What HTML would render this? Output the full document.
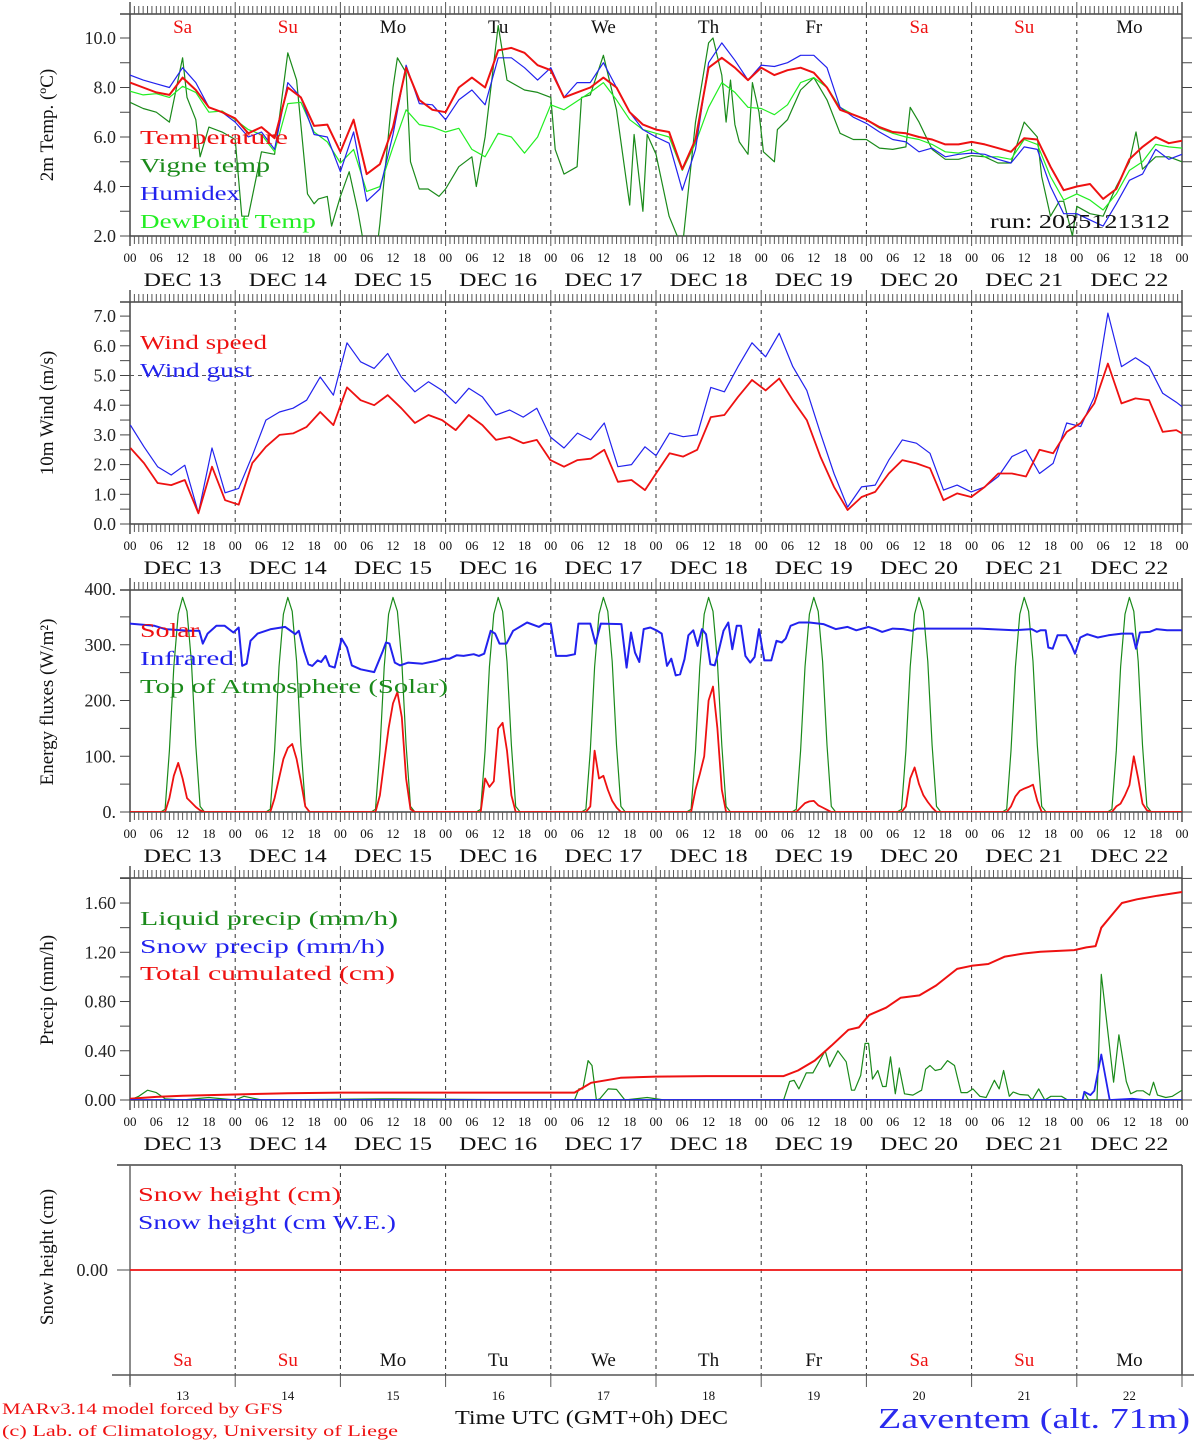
<!DOCTYPE html>
<html><head><meta charset="utf-8"><title>Meteogram Zaventem</title>
<style>
html,body{margin:0;padding:0;background:#fff;}
svg{display:block;font-family:"Liberation Serif",serif;}
</style></head>
<body>
<svg id="chart" xmlns="http://www.w3.org/2000/svg" width="1194" height="1440" viewBox="0 0 1194 1440"></svg>
<script>
// ---------- DATA ----------
const dayNames = ["Sa","Su","Mo","Tu","We","Th","Fr","Sa","Su","Mo"];
const dayNums = ["13","14","15","16","17","18","19","20","21","22"];
const hourLabels = ["00","06","12","18"];
const temp = [8.2,8.0,7.8,7.7,8.4,7.9,7.2,7.0,
6.75,6.15,6.4,5.95,8.0,7.6,6.45,6.5,
5.4,6.7,4.5,4.9,6.4,8.8,7.5,7.1,
7.0,8.0,8.4,8.0,9.5,9.6,9.4,8.9,
8.7,7.6,7.8,8.0,8.4,8.0,7.0,6.5,
6.3,6.2,4.7,5.9,8.8,9.2,8.8,8.3,
8.8,8.5,8.7,8.8,8.6,8.0,7.1,6.9,
6.7,6.4,6.2,6.15,6.0,5.9,5.7,5.7,
5.8,5.7,5.55,5.4,5.95,5.9,4.8,3.85,
4.0,4.1,3.5,3.9,5.1,5.6,6.0,5.75,5.85];
const humidex = [8.5,8.3,8.15,8.0,8.8,8.2,7.2,7.0,
6.6,6.0,6.2,5.5,8.2,7.6,6.1,6.0,
4.6,6.2,3.4,3.9,6.1,8.9,7.35,7.3,
6.7,7.5,7.9,7.3,9.2,9.2,8.8,8.3,
8.8,7.6,8.2,8.2,9.0,8.0,7.0,6.3,
6.0,5.75,3.85,5.5,9.0,9.8,9.1,8.3,
8.9,8.85,9.0,9.3,9.3,8.8,7.2,6.8,
6.55,6.2,5.9,5.8,5.4,5.55,5.2,5.3,
5.35,5.3,5.1,4.95,5.6,5.5,4.0,2.9,
2.9,2.65,2.4,3.3,4.25,4.5,5.5,5.1,5.3];
const dewpoint = [7.85,7.7,7.75,7.6,8.05,7.8,7.0,7.05,
6.7,6.3,6.1,5.4,7.35,7.4,6.2,5.8,
4.95,5.5,3.8,4.0,5.6,7.1,6.5,6.4,
6.2,6.35,5.5,5.2,6.15,6.0,5.35,6.0,
7.3,7.1,7.45,7.8,8.2,7.5,6.7,6.3,
6.15,6.0,4.65,5.75,7.2,8.2,7.8,7.2,
7.15,6.9,7.3,8.2,8.4,8.0,7.2,6.9,
6.7,6.35,6.15,6.0,5.9,5.7,5.4,5.35,
5.5,5.2,5.2,5.1,5.9,5.7,4.4,3.45,
3.7,3.45,3.05,3.7,4.65,5.0,5.7,5.6,5.55];
const vigneHours = [0,3,6,9,12,13,15,16,18,21,24,25.5,27,30,33,36,38,40.5,42,43,45,46,48,50,52,54,56,57,60,61,63,64,66,68,70.5,72,75,78,79,81,84,86,90,93,96,97,99,102,103,105,106.5,108,111,114,115,117,118,120,123,126,129,132,133,135,136,137,138,139,141,142,143.5,144.5,147,147.7,150,153,156,159,162,165,168,171,174,177,178,180,183,186,189,192,195,198,201,204,205,207,208,210,212,213,215,216,219,222,225,228,229.5,231,234,237,240];
const vigne = [7.4,7.15,7.0,6.6,9.2,7.6,6.7,5.2,6.4,6.2,5.9,2.8,2.8,5.4,5.3,9.4,8.3,3.7,3.3,3.5,3.6,2.4,3.6,4.6,3.0,1.0,1.0,2.5,8.0,9.2,8.6,5.0,3.9,3.9,3.6,3.9,4.8,5.2,4.0,6.0,10.5,8.3,7.9,7.8,7.6,5.5,4.5,4.8,7.6,7.7,8.5,9.3,7.1,3.25,6.1,3.0,6.1,5.3,2.8,1.5,6.6,9.8,10.0,8.5,6.6,8.3,6.5,5.8,5.3,8.2,7.0,5.4,5.0,6.3,6.7,7.9,8.4,7.5,6.15,5.9,5.9,5.55,5.5,5.6,7.2,6.6,5.5,5.1,5.1,5.25,5.2,4.95,4.95,6.6,6.4,6.0,4.4,2.8,3.4,3.4,2.0,3.2,2.9,2.8,4.0,5.0,6.2,4.7,5.2,5.2,5.0];
const windHours = [0.1,3.2,6.3,9.4,12.5,15.6,18.7,21.7,24.8,27.9,31.0,34.1,37.2,40.3,43.4,46.4,49.5,52.6,55.7,58.8,61.9,65.0,68.1,71.2,74.3,77.3,80.4,83.5,86.6,89.7,92.8,95.9,99.0,102.1,105.1,108.2,111.3,114.4,117.5,
120,123.1,126.2,129.4,132.5,135.6,138.7,141.9,145,148.1,151.2,154.4,157.5,160.6,163.7,166.9,170,173.1,176.2,179.4,182.5,185.6,188.7,191.9,195,198.1,201.2,204.4,207.5,210.6,213.7,216.9,220,223.1,226.2,229.4,232.5,235.6,238.7,240];
const windSpeed = [2.56,2.05,1.38,1.31,1.48,0.36,1.93,0.8,0.65,2.05,2.6,3.0,3.05,3.27,3.77,3.33,4.6,4.17,4.0,4.34,3.9,3.4,3.67,3.5,3.16,3.67,3.33,2.83,2.93,2.72,2.83,2.15,1.93,2.15,2.2,2.5,1.42,1.48,1.14,
1.7,2.38,2.27,2.5,3.6,3.67,4.28,4.85,4.5,4.9,4.17,3.5,2.27,1.25,0.47,0.91,1.08,1.7,2.15,2.04,1.88,0.8,1.03,0.91,1.25,1.7,1.7,1.6,2.5,2.38,3.1,3.4,4.06,5.4,4.06,4.23,4.17,3.1,3.16,3.05];
const windGust = [3.33,2.6,1.93,1.65,1.98,0.37,2.56,1.05,1.2,2.3,3.5,3.77,3.9,4.17,4.95,4.34,6.1,5.46,5.24,5.74,4.95,4.45,4.79,4.5,4.06,4.57,4.28,3.67,3.84,3.6,3.9,2.93,2.56,3.06,2.83,3.4,1.93,2.0,2.6,
2.3,3.06,2.94,3.0,4.6,4.45,5.3,6.1,5.63,6.42,5.3,4.5,3.06,1.7,0.57,1.25,1.31,2.15,2.83,2.72,2.38,1.14,1.31,1.08,1.25,1.6,2.27,2.5,1.7,2.04,3.4,3.28,4.28,7.1,5.3,5.6,5.3,4.4,4.1,3.95];
const solarHours = [7,8,9,10,11,12,13,14,15,16,17];
const solarByDay = [
[0,0,25,65,88,60,25,17,9,3,0],
[0,0,25,60,95,115,122,95,55,10,0],
[0,0,30,90,150,195,215,170,60,5,0],
[0,0,60,45,55,150,160,110,30,0,0],
[0,0,10,110,60,65,40,20,8,0,0],
[0,0,40,68,100,200,225,150,40,0,0],
[0,0,8,16,19,20,12,8,4,0,0],
[0,0,10,60,80,50,30,18,8,0,0],
[0,0,10,28,38,42,45,49,20,0,0],
[0,0,10,15,30,48,100,60,15,3,0]];
const toaByHour = [0,5,110,260,355,385,360,270,120,10,0];
const irHours = [0,5.6,8,13.4,15.8,16.6,17.7,19.7,21.6,23.6,24.8,25.6,26.6,27.5,29.1,32.2,35.4,37.7,38.5,39.7,40.7,41.6,42.8,43.6,44.6,45.5,46.7,48.3,49.5,50.6,52.6,55.7,57.7,58.4,59.2,60.4,61.6,63.5,66.7,69.8,71.4,72.9,74.5,76.1,78.4,79.6,80.8,82.3,83.3,84.3,85.9,87.4,90.6,93.3,94.5,96,97.2,99.6,101.5,102.3,105,106.2,107.4,112.1,113.3,114.3,115.2,116.2,117.2,118.7,120.3,121.3,122.5,123.5,124.5,125.5,126.5,127.4,128.5,129.5,130.5,131.4,132.4,133.4,134.4,135.4,136.5,137.4,138.4,139.4,140.4,141.5,142.5,143.5,144.7,146.3,147.5,148.7,149.6,150.7,152.6,155,158.2,161,163.7,165.7,168.5,170,171.6,174,176.4,178.4,179.6,184.3,193.8,201.7,205.7,206.9,207.7,208.9,209.5,210.5,211.6,213.6,214.8,215.6,216.8,218.4,220.8,223.2,226.3,228.7,229.5,230.4,232.6,234.2,236.6,240];
const infrared = [338,334,328,325,325,302,320,334,334,322,331,262,266,307,320,328,332,319,325,289,265,262,272,269,280,262,259,311,295,263,256,251,289,304,302,268,263,268,266,271,275,275,281,280,283,280,284,325,320,302,302,325,340,332,338,337,280,280,283,338,338,302,338,337,259,322,286,269,328,331,325,320,262,275,245,247,274,317,326,298,328,319,265,263,292,325,340,292,334,334,280,268,278,328,272,272,307,304,311,334,340,340,337,328,332,326,332,328,323,329,328,325,329,329,329,326,328,323,326,326,295,293,317,317,299,284,313,319,313,317,320,320,293,322,323,328,326,326];
const precipHours = [0,2,4,6,8,12,18,24,26,30,60,96,101.4,102.4,103.3,104.5,105.4,106.4,107.2,109.1,111,112.9,118,121.9,149.1,150.5,151.5,152.6,154.3,155.8,158.6,159.6,161.5,163.4,164.6,165.3,166.7,167.7,168.5,169.4,170.6,171.7,172.5,173.5,174.6,175.5,176.7,178.6,180.6,181.5,182.5,183.7,185,186.5,188.1,189.6,191,192.3,193.9,195.3,197.2,198.3,199.3,200.6,201.5,203,204.9,205.8,207.3,208.7,210.1,212.5,213.9,217.3,217.7,218.7,220.6,221.6,224.4,225.6,227.3,228.3,229.7,231.1,232.6,233.5,234.4,236.3,237.8,240];
const liquidPrecip = [0,0.03,0.08,0.06,0.01,0,0.02,0,0.03,0,0.01,0,0,0.09,0.09,0.32,0.28,0,0.01,0.09,0.086,0,0.02,0,0,0.15,0.16,0.09,0.22,0.22,0.40,0.27,0.40,0.31,0.08,0.08,0.20,0.46,0.46,0.17,0.24,0.11,0.11,0.35,0.05,0.26,0.05,0.04,0.08,0.25,0.28,0.24,0.25,0.32,0.28,0.06,0.06,0.09,0.03,0.02,0.16,0.09,0.24,0.03,0.065,0.045,0.04,0,0.09,0,0.03,0.03,0,0,0.06,0,0,1.02,0.145,0.53,0.15,0.05,0.075,0.075,0.04,0.145,0.04,0.02,0.03,0.08];
const snowHours = [0,217.3,217.7,219.1,220,221.6,223.5,228.7,231.6,240];
const snowPrecip = [0,0,0.067,0.04,0.075,0.37,0,0.01,0,0];
const cumHours = [0,6,12,24,36,48,96,101.4,105.2,111.9,120,131.5,149.1,152.4,156.2,160,163.9,166.3,168.6,172.5,175.8,180.1,183.9,188.7,192,195.8,199.6,203.9,207.7,215.4,218.2,220.3,221.6,224.4,226.3,229.7,234.4,240];
const cumPrecip = [0.01,0.025,0.035,0.045,0.055,0.06,0.06,0.06,0.14,0.18,0.19,0.194,0.194,0.24,0.32,0.44,0.57,0.59,0.69,0.75,0.83,0.85,0.93,1.065,1.09,1.105,1.165,1.19,1.205,1.218,1.24,1.25,1.40,1.52,1.60,1.63,1.66,1.69];
const snowHeightHours = [0,240];
const snowHeight = [0,0];

// ---------- DRAWING ----------
const svg = document.getElementById('chart');
const NS = 'http://www.w3.org/2000/svg';
const X0 = 130, X1 = 1182, HMAX = 240;
function xs(h){ return X0 + h*(X1-X0)/HMAX; }
function mk(tag, attrs, parent){
  const e = document.createElementNS(NS, tag);
  for (const k in attrs) e.setAttribute(k, attrs[k]);
  (parent||svg).appendChild(e);
  return e;
}
function txt(s, x, y, size, fill, anchor, parent, extra){
  const t = mk('text', {x:x, y:y, 'font-size':size, fill:fill, 'text-anchor':anchor||'start'}, parent);
  if (extra) for (const k in extra) t.setAttribute(k, extra[k]);
  t.textContent = s;
  return t;
}
function line(x1,y1,x2,y2,stroke,w,parent,dash){
  const l = mk('line',{x1:x1,y1:y1,x2:x2,y2:y2,stroke:stroke,'stroke-width':w||1}, parent);
  if (dash) l.setAttribute('stroke-dasharray', dash);
  return l;
}

const panels = [
 {name:'temperature-panel', top:14, bot:236, ymin:2, ymax:2+222/24.75, minor:1, labels:[2,4,6,8,10], fmt:v=>v.toFixed(1), title:'2m Temp. (ºC)', titleY:125},
 {name:'wind-panel', top:302, bot:524, ymin:0, ymax:222/29.7, minor:0.5, labels:[0,1,2,3,4,5,6,7], fmt:v=>v.toFixed(1), title:'10m Wind (m/s)', titleY:413},
 {name:'energy-panel', top:590, bot:812, ymin:0, ymax:222/0.5575, minor:50, labels:[0,100,200,300,400], fmt:v=>v.toFixed(0)+'.', title:'Energy fluxes (W/m²)', titleY:702},
 {name:'precip-panel', top:878, bot:1100, ymin:0, ymax:222/123.1, minor:0.2, labels:[0,0.4,0.8,1.2,1.6], fmt:v=>v.toFixed(2), title:'Precip (mm/h)', titleY:990},
];
function ys(p, v){ return p.bot - (v - p.ymin)*(p.bot-p.top)/(p.ymax-p.ymin); }

panels.forEach((p, i) => {
  const g = mk('g', {});
  
  
  p.g = g;
  const cp = mk('clipPath', {id:'clip'+i}, g);
  mk('rect', {x:X0, y:p.top, width:X1-X0, height:p.bot-p.top}, cp);
  for (let d=1; d<10; d++){
    const l = line(xs(d*24), p.top, xs(d*24), p.bot, '#333', 1, g, '4,4');
    
    
  }
  line(X0, p.top, X1, p.top, '#444', 1.5, g);
  line(X0, p.bot, X1, p.bot, '#444', 1.5, g);
  line(X0, p.top-12, X0, p.bot+10, '#444', 1.5, g);
  line(X1, p.top-12, X1, p.bot+10, '#444', 1.5, g);
  line(120, p.top, X0, p.top, '#444', 1.5, g);
  for (let h=0; h<=240; h++){
    const major = h%24===0;
    line(xs(h), p.top, xs(h), p.top-(major?12:8), '#555', 1, g);
    line(xs(h), p.bot, xs(h), p.bot+(major?10:8), '#555', 1, g);
  }
  for (let v=p.ymin; v<=p.ymax+1e-6; v+=p.minor){
    const y = ys(p, v);
    line(120, y, X0, y, '#444', 1, g);
    line(X1, y, 1192, y, '#444', 1, g);
  }
  p.labels.forEach(v => {
    const t = txt(p.fmt(v), 116, ys(p,v)+6, 18, '#222', 'end', g);
    
    
  });
  for (let d=0; d<10; d++){
    hourLabels.forEach((s,k) => {
      const t = txt(s, xs(d*24+k*6), p.bot+26, 13, '#111', 'middle', g);
      
      
    });
    const t = txt('DEC '+dayNums[d], xs(d*24+12), p.bot+50, 19, '#111', 'middle', g, {textLength:'78', lengthAdjust:'spacingAndGlyphs'});
    
    
  }
  txt('00', xs(240), p.bot+26, 13, '#111', 'middle', g);
  const yt = txt(p.title, 0, 0, 19, '#111', 'middle', g, {transform:'translate(53,'+p.titleY+') rotate(-90)'});
  
  
});

function series(p, hours, vals, color, width, name){
  const pts = hours.map((h,i) => xs(h).toFixed(1)+','+ys(p, vals[i]).toFixed(1)).join(' ');
  const pl = mk('polyline', {points:pts, fill:'none', stroke:color, 'stroke-width':width, 'stroke-linejoin':'round', 'clip-path':'url(#clip'+panels.indexOf(p)+')'}, p.g);
  
  
  return pl;
}
function legend(p, s, x, y, color, len){
  const t = txt(s, x, y, 20, color, 'start', p.g, {textLength:len, lengthAdjust:'spacingAndGlyphs'});
  
  
}

const P1 = panels[0];
const h3 = temp.map((_, i) => i*3);
series(P1, vigneHours, vigne, '#1a8a1a', 1.2, 'vigne-temp-line');
series(P1, h3, dewpoint, '#22ee22', 1.2, 'dewpoint-line');
series(P1, h3, humidex, '#2222ee', 1.2, 'humidex-line');
series(P1, h3, temp, '#ee1111', 2, 'temperature-line');
dayNames.forEach((n, d) => {
  const t = txt(n, xs(d*24+12), 33, 19, (d===0||d===1||d===7||d===8)?'#ee1111':'#111', 'middle', P1.g);
  
  
});
legend(P1, 'Temperature', 140, 144, '#ee1111', 148);
legend(P1, 'Vigne temp', 140, 172, '#1a8a1a', 130);
legend(P1, 'Humidex', 140, 200, '#2222ee', 100);
legend(P1, 'DewPoint Temp', 140, 228, '#22ee22', 176);
const run = txt('run: 2025121312', 990, 228, 20, '#111', 'start', P1.g, {textLength:180, lengthAdjust:'spacingAndGlyphs'});



const P2 = panels[1];
const thr = line(X0, ys(P2,5), X1, ys(P2,5), '#555', 1, P2.g, '4,4');


series(P2, windHours, windGust, '#2222ee', 1.2, 'wind-gust-line');
series(P2, windHours, windSpeed, '#ee1111', 1.8, 'wind-speed-line');
legend(P2, 'Wind speed', 140, 349, '#ee1111', 127);
legend(P2, 'Wind gust', 140, 377, '#2222ee', 112);

const P3 = panels[2];
const solarH = [], solarV = [], toaH = [], toaV = [];
for (let d=0; d<10; d++){
  solarH.push(d*24); solarV.push(0); toaH.push(d*24); toaV.push(0);
  solarHours.forEach((hh,k) => { solarH.push(d*24+hh); solarV.push(solarByDay[d][k]); toaH.push(d*24+hh); toaV.push(toaByHour[k]); });
}
solarH.push(240); solarV.push(0); toaH.push(240); toaV.push(0);
series(P3, toaH, toaV, '#1a8a1a', 1.2, 'toa-solar-line');
series(P3, solarH, solarV, '#ee1111', 1.8, 'solar-line');
series(P3, irHours, infrared, '#2222ee', 2, 'infrared-line');
legend(P3, 'Solar', 140, 637, '#ee1111', 59);
legend(P3, 'Infrared', 140, 665, '#2222ee', 94);
legend(P3, 'Top of Atmosphere (Solar)', 140, 693, '#1a8a1a', 308);

const P4 = panels[3];
series(P4, precipHours, liquidPrecip, '#1a8a1a', 1.2, 'liquid-precip-line');
series(P4, cumHours, cumPrecip, '#ee1111', 2, 'cumulated-precip-line');
series(P4, snowHours, snowPrecip, '#2222ee', 1.8, 'snow-precip-line');
legend(P4, 'Liquid precip (mm/h)', 140, 925, '#1a8a1a', 258);
legend(P4, 'Snow precip (mm/h)', 140, 953, '#2222ee', 245);
legend(P4, 'Total cumulated (cm)', 140, 980, '#ee1111', 255);

const P5 = {top:1165, bot:1375};
const g5 = mk('g', {});


for (let d=1; d<10; d++) line(xs(d*24), P5.top, xs(d*24), P5.bot, '#333', 1, g5, '4,4');
line(117, P5.top, X1, P5.top, '#444', 1.5, g5);
line(X0, P5.top, X0, P5.bot+10, '#666', 1.5, g5);
line(X1, P5.top, X1, P5.bot, '#444', 1.5, g5);
line(112, P5.bot, 1194, P5.bot, '#555', 1.5, g5);
for (let d=0; d<=10; d++) line(xs(d*24), P5.bot, xs(d*24), P5.bot+12, '#555', 1, g5);
const y5 = v => 1270 - v*100;
line(117, y5(0), X0, y5(0), '#666', 1.2, g5);
const sh = mk('polyline', {points: snowHeightHours.map((h,i)=>xs(h)+','+y5(snowHeight[i])).join(' '), fill:'none', stroke:'#ee1111', 'stroke-width':1.8}, g5);


txt('0.00', 108, y5(0)+6, 18, '#222', 'end', g5);
const t5 = txt('Snow height (cm)', 0, 0, 19, '#111', 'middle', g5, {transform:'translate(53,1257) rotate(-90)'});


const l5a = txt('Snow height (cm)', 138, 1201, 20, '#ee1111', 'start', g5, {textLength:203, lengthAdjust:'spacingAndGlyphs'});


const l5b = txt('Snow height (cm W.E.)', 138, 1229, 20, '#2222ee', 'start', g5, {textLength:258, lengthAdjust:'spacingAndGlyphs'});


dayNames.forEach((n, d) => {
  const t = txt(n, xs(d*24+12), 1366, 19, (d===0||d===1||d===7||d===8)?'#ee1111':'#111', 'middle', g5);
  
  
  const t2 = txt(dayNums[d], xs(d*24+12), 1400, 13, '#111', 'middle', g5);
  
  
});

const f1 = txt('MARv3.14 model forced by GFS', 2, 1414, 16, '#ee1111', 'start', null, {textLength:281, lengthAdjust:'spacingAndGlyphs'});


const f2 = txt('(c) Lab. of Climatology, University of Liege', 2, 1436, 16, '#ee1111', 'start', null, {textLength:396, lengthAdjust:'spacingAndGlyphs'});


const f3 = txt('Time UTC (GMT+0h) DEC', 455, 1424, 20, '#111', 'start', null, {textLength:273, lengthAdjust:'spacingAndGlyphs'});


const f4 = txt('Zaventem (alt. 71m)', 878, 1428, 28, '#2a2aee', 'start', null, {textLength:312, lengthAdjust:'spacingAndGlyphs'});


</script>
</body></html>
